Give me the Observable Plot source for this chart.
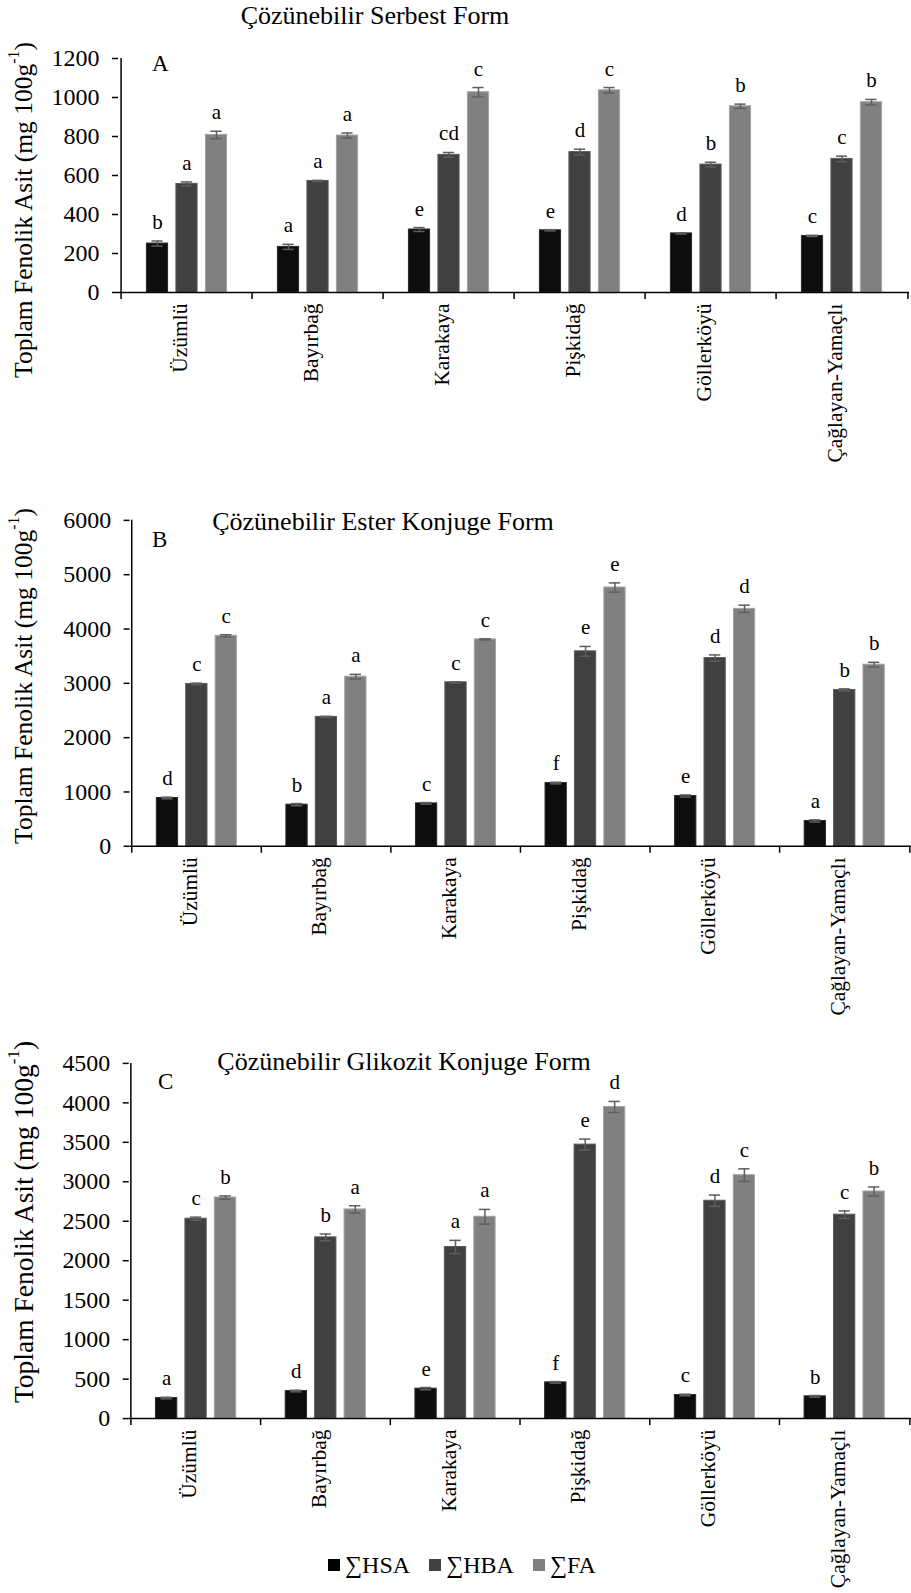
<!DOCTYPE html>
<html><head><meta charset="utf-8">
<script src="https://cdn.jsdelivr.net/npm/d3@7"></script>
<script src="https://cdn.jsdelivr.net/npm/@observablehq/plot@0.6"></script>
<style>
html,body{margin:0;padding:0;background:#fff;overflow:hidden;}
#root{position:relative;width:911px;height:1593px;overflow:hidden;color:#000;background:#fff;}
#root, #root *, #root svg text, #root svg g {font-family:"Liberation Serif","Times New Roman",serif !important;}
.panel{position:absolute;left:0;}
.ttl{position:absolute;transform:translate(-50%,-50%);white-space:nowrap;line-height:1;font-size:26px;}
.plet{position:absolute;transform:translateY(-50%);line-height:1;font-size:23px;}
.ylab{position:absolute;transform:translate(-50%,-50%) rotate(-90deg);white-space:nowrap;line-height:1;}
.ylab sup{font-size:0.62em;position:relative;top:-0.2em;vertical-align:super;line-height:0;}
.legend{position:absolute;left:328px;top:1565px;transform:translateY(-50%);display:flex;align-items:center;font-size:24px;line-height:1;white-space:nowrap;}
.legend .sw{width:12px;height:12px;display:inline-block;margin-right:5px;}
.legend .it{display:flex;align-items:center;margin-right:19px;}
</style></head><body><div id="root"></div>
<script>
const categories = ["Üzümlü","Bayırbağ","Karakaya","Pişkidağ","Göllerköyü","Çağlayan-Yamaçlı"];
const series = ["∑HSA","∑HBA","∑FA"];
const colors = ["#0d0d0d","#404040","#808080"];
const edges = ["#2a2a2a","#5a5a5a","#a4a4a4"];
const yLabelMain = "Toplam Fenolik Asit (mg 100g";
const yLabelSup = "-1";

// Panel A — Çözünebilir Serbest Form
const aTitle = "Çözünebilir Serbest Form";
const aTicks = [0,200,400,600,800,1000,1200];
const aHSA = [251,234,323,319,303,290];
const aHBA = [557,572,706,720,656,685];
const aFA  = [808,805,1027,1037,955,976];
const aHSAerr = [13,13,10,3,3,3];
const aHBAerr = [10,3,12,15,12,14];
const aFAerr  = [19,13,24,14,11,14];
const aHSAlet = ["b","a","e","e","d","c"];
const aHBAlet = ["a","a","cd","d","b","c"];
const aFAlet  = ["a","a","c","c","b","b"];

// Panel B — Çözünebilir Ester Konjuge Form
const bTitle = "Çözünebilir Ester Konjuge Form";
const bTicks = [0,1000,2000,3000,4000,5000,6000];
const bHSA = [889,766,790,1164,925,466];
const bHBA = [2988,2382,3019,3589,3465,2878];
const bFA  = [3875,3122,3809,4764,4371,3343];
const bHSAerr = [15,20,15,15,20,20];
const bHBAerr = [15,10,10,90,58,20];
const bFAerr  = [20,43,10,85,67,43];
const bHSAlet = ["d","b","c","f","e","a"];
const bHBAlet = ["c","a","c","e","d","b"];
const bFAlet  = ["c","a","c","e","d","b"];

// Panel C — Çözünebilir Glikozit Konjuge Form
const cTitle = "Çözünebilir Glikozit Konjuge Form";
const cTicks = [0,500,1000,1500,2000,2500,3000,3500,4000,4500];
const cHSA = [260,349,379,459,299,282];
const cHBA = [2532,2296,2174,3471,2760,2583];
const cFA  = [2801,2650,2557,3948,3084,2877];
const cHSAerr = [10,10,15,10,10,10];
const cHBAerr = [20,42,84,70,72,48];
const cFAerr  = [20,46,93,70,80,57];
const cHSAlet = ["a","d","e","f","c","b"];
const cHBAlet = ["c","b","a","e","d","c"];
const cFAlet  = ["b","a","a","d","c","b"];

const root = document.getElementById("root");
const FONT = "'Liberation Serif','Times New Roman',serif";

function buildPanel(cfg) {
  const {vals, errs, lets, ticks, top, width, height, mL, mR, mT, mB} = cfg;
  const ymax = ticks[ticks.length - 1];
  const plotH = height - mT - mB;
  const perPx = ymax / plotH;
  const bw = (width - mL - mR) / categories.length;
  const barW = 22, step = 29.5, capW = 12;
  const rows = [];
  series.forEach((s, si) => categories.forEach((c, ci) =>
    rows.push({cat: c, s, si, v: vals[si][ci], e: errs[si][ci], l: lets[si][ci]})));
  const marks = [];
  series.forEach((s, si) => {
    const d = rows.filter(r => r.si === si);
    const dx = (si - 1) * step;
    marks.push(Plot.barY(d, {x: "cat", y: "v", fill: colors[si], stroke: edges[si], strokeWidth: 1, insetLeft: (bw - barW) / 2, insetRight: (bw - barW) / 2, dx}));
    marks.push(Plot.ruleX(d, {x: "cat", y1: r => r.v - r.e, y2: r => r.v + r.e, stroke: "#5e5e5e", strokeWidth: 1.5, dx}));
    marks.push(Plot.tickY(d, {x: "cat", y: r => r.v + r.e, stroke: "#5e5e5e", strokeWidth: 1.5, insetLeft: (bw - capW) / 2, insetRight: (bw - capW) / 2, dx}));
    marks.push(Plot.tickY(d, {x: "cat", y: r => r.v - r.e, stroke: "#5e5e5e", strokeWidth: 1.5, insetLeft: (bw - capW) / 2, insetRight: (bw - capW) / 2, dx}));
    marks.push(Plot.text(d, {x: "cat", y: r => r.v + r.e, text: "l", dx, dy: -12, lineAnchor: "bottom", fontSize: 21, fontFamily: FONT, fill: "#000"}));
  });
  marks.push(Plot.ruleY([0], {stroke: "#000", strokeWidth: 1.5}));
  marks.push(Plot.ruleX([categories[0]], {x: d => d, dx: -bw / 2, y1: 0, y2: ymax, stroke: "#000", strokeWidth: 1.5}));
  marks.push(Plot.ruleX(categories, {x: d => d, dx: -bw / 2, y1: 0, y2: -7 * perPx, stroke: "#000", strokeWidth: 1.5}));
  marks.push(Plot.ruleX([categories[categories.length - 1]], {x: d => d, dx: bw / 2, y1: 0, y2: -7 * perPx, stroke: "#000", strokeWidth: 1.5}));
  marks.push(Plot.axisY({ticks, tickSize: 6, tickPadding: 13, fontSize: 24, fontFamily: FONT, tickFormat: d => String(d), label: null, stroke: "#000", strokeWidth: 1.5, fill: "#000"}));
  marks.push(Plot.text(categories, {x: d => d, text: d => d, frameAnchor: "bottom", rotate: -90, textAnchor: "end", dy: 11, fontSize: 21.5, fontFamily: FONT, fill: "#000"}));
  const svg = Plot.plot({
    width, height, marginLeft: mL, marginRight: mR, marginTop: mT, marginBottom: mB,
    style: {fontFamily: FONT, fontSize: "24px", color: "#000", background: "transparent", overflow: "visible"},
    x: {type: "band", domain: categories, padding: 0, axis: null},
    y: {domain: [0, ymax]},
    marks
  });
  const div = document.createElement("div");
  div.className = "panel";
  div.style.top = top + "px";
  div.appendChild(svg);
  root.appendChild(div);
}

buildPanel({vals: [aHSA, aHBA, aFA], errs: [aHSAerr, aHBAerr, aFAerr], lets: [aHSAlet, aHBAlet, aFAlet],
  ticks: aTicks, top: 0, width: 911, height: 480, mL: 118, mR: 2, mT: 58, mB: 188});
buildPanel({vals: [bHSA, bHBA, bFA], errs: [bHSAerr, bHBAerr, bFAerr], lets: [bHSAlet, bHBAlet, bFAlet],
  ticks: bTicks, top: 480, width: 914, height: 530, mL: 130, mR: 0, mT: 40, mB: 163});
buildPanel({vals: [cHSA, cHBA, cFA], errs: [cHSAerr, cHBAerr, cFAerr], lets: [cHSAlet, cHBAlet, cFAlet],
  ticks: cTicks, top: 1010, width: 913, height: 583, mL: 129, mR: 0, mT: 53, mB: 174});

function addDiv(cls, text, css) {
  const d = document.createElement("div");
  d.className = cls; d.textContent = text;
  Object.assign(d.style, css);
  root.appendChild(d);
  return d;
}
function addYLabel(cx, cy, size) {
  const d = addDiv("ylab", yLabelMain, {left: cx + "px", top: cy + "px", fontSize: size + "px"});
  const s = document.createElement("sup"); s.textContent = yLabelSup;
  d.appendChild(s);
  d.appendChild(document.createTextNode(")"));
}
addYLabel(24, 210, 25.5);
addYLabel(24, 676, 25.5);
addYLabel(24, 1222, 27.5);

addDiv("ttl", aTitle, {left: "375px", top: "16px"});
addDiv("ttl", bTitle, {left: "383px", top: "522px"});
addDiv("ttl", cTitle, {left: "404px", top: "1062px"});
addDiv("plet", "A", {left: "152px", top: "63px"});
addDiv("plet", "B", {left: "152px", top: "539px"});
addDiv("plet", "C", {left: "158px", top: "1081px"});

const legend = document.createElement("div");
legend.className = "legend";
series.forEach((s, i) => {
  const it = document.createElement("span"); it.className = "it";
  const sw = document.createElement("span"); sw.className = "sw"; sw.style.background = i === 0 ? "#000" : colors[i];
  const tx = document.createElement("span"); tx.textContent = s;
  it.append(sw, tx); legend.appendChild(it);
});
root.appendChild(legend);
</script></body></html>
